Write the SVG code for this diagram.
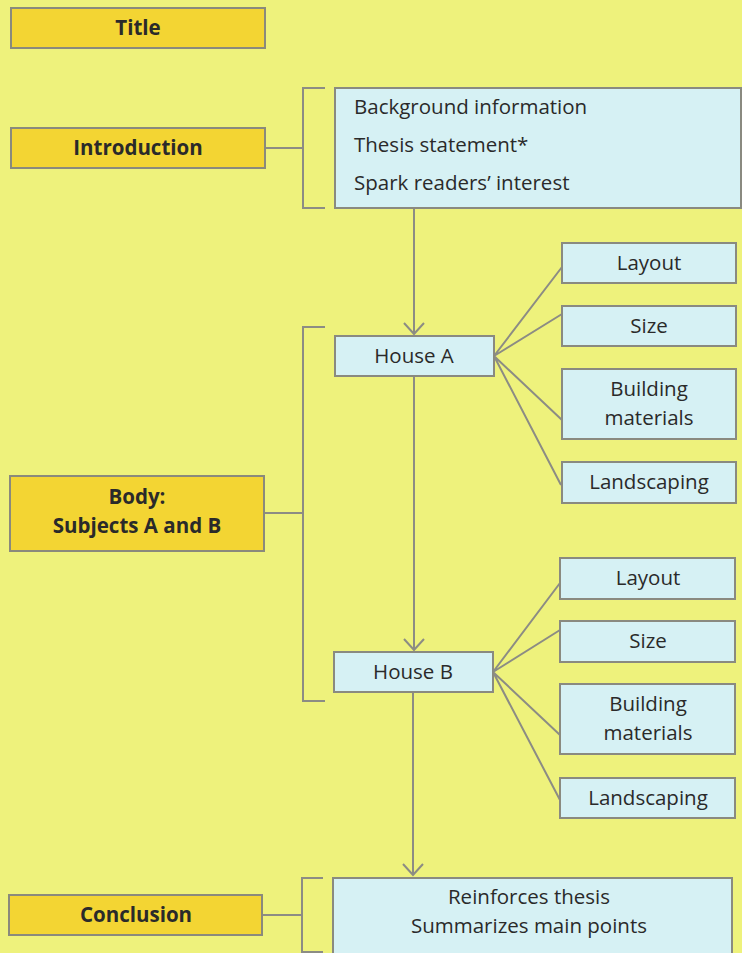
<svg xmlns="http://www.w3.org/2000/svg" width="742" height="953" viewBox="0 0 742 953">
<style>
.bg{fill:#eef27c}
.gold{fill:#f3d533;stroke:#8a8a7c;stroke-width:2}
.blue{fill:#d6f1f4;stroke:#8a8a80;stroke-width:2}
.ln{fill:none;stroke:#8c8c84;stroke-width:2}
.lb{font-family:"Open Sans","Noto Sans",sans-serif;font-weight:bold;font-size:20.5px;fill:#2a2a2a;text-anchor:middle}
.t{font-family:"Open Sans","Noto Sans",sans-serif;font-size:20.5px;fill:#2a2a2a}
.tc{font-family:"Open Sans","Noto Sans",sans-serif;font-size:20.5px;fill:#2a2a2a;text-anchor:middle}
</style>
<defs>
<marker id="arr" viewBox="0 0 14 22" refX="12" refY="11" markerWidth="14" markerHeight="22" markerUnits="userSpaceOnUse" orient="auto">
<path d="M1,1 L12,11 L1,21" fill="none" stroke="#8c8c84" stroke-width="2"/>
</marker>
</defs>
<rect class="bg" x="0" y="0" width="742" height="953"/>

<g id="connectors">
<path class="ln" d="M265,148 H303 M325,88 H303 V208 H325"/>
<path class="ln" d="M264,513 H303 M325,327 H303 V701 H325"/>
<path class="ln" d="M262,915 H302 M323,878 H302 V952 H323"/>
<line class="ln" x1="414" y1="208" x2="414" y2="334" marker-end="url(#arr)"/>
<line class="ln" x1="414" y1="376" x2="414" y2="650" marker-end="url(#arr)"/>
<line class="ln" x1="413" y1="692" x2="413" y2="875" marker-end="url(#arr)"/>
<path class="ln" d="M494,356 L562,267 M494,356 L562,314 M494,356 L562,420 M494,356 L561,485"/>
<path class="ln" d="M493,672 L560,583 M493,672 L560,630 M493,672 L560,735 M493,672 L560,800"/>
</g>

<g id="title"><rect class="gold" x="11" y="8" width="254" height="40"/><text class="lb" x="138" y="35">Title</text></g>
<g id="introduction"><rect class="gold" x="11" y="128" width="254" height="40"/><text class="lb" x="138" y="155">Introduction</text></g>
<g id="body"><rect class="gold" x="10" y="476" width="254" height="75"/><text class="lb" x="137" y="504">Body:</text><text class="lb" x="137" y="533">Subjects A and B</text></g>
<g id="conclusion"><rect class="gold" x="9" y="895" width="253" height="40"/><text class="lb" x="136" y="922">Conclusion</text></g>

<g id="intro-content"><rect class="blue" x="335" y="88" width="406" height="120"/>
<text class="t" x="354" y="114">Background information</text>
<text class="t" x="354" y="152">Thesis statement*</text>
<text class="t" x="354" y="190">Spark readers’ interest</text></g>

<g id="house-a"><rect class="blue" x="335" y="336" width="159" height="40"/><text class="tc" x="414" y="363">House A</text></g>
<g id="a-layout"><rect class="blue" x="562" y="243" width="174" height="40"/><text class="tc" x="649" y="270">Layout</text></g>
<g id="a-size"><rect class="blue" x="562" y="306" width="174" height="40"/><text class="tc" x="649" y="333">Size</text></g>
<g id="a-building"><rect class="blue" x="562" y="369" width="174" height="70"/><text class="tc" x="649" y="396">Building</text><text class="tc" x="649" y="425">materials</text></g>
<g id="a-landscaping"><rect class="blue" x="562" y="462" width="174" height="41"/><text class="tc" x="649" y="489">Landscaping</text></g>

<g id="house-b"><rect class="blue" x="334" y="652" width="159" height="40"/><text class="tc" x="413" y="679">House B</text></g>
<g id="b-layout"><rect class="blue" x="560" y="558" width="175" height="41"/><text class="tc" x="648" y="585">Layout</text></g>
<g id="b-size"><rect class="blue" x="560" y="621" width="175" height="41"/><text class="tc" x="648" y="648">Size</text></g>
<g id="b-building"><rect class="blue" x="560" y="684" width="175" height="70"/><text class="tc" x="648" y="711">Building</text><text class="tc" x="648" y="740">materials</text></g>
<g id="b-landscaping"><rect class="blue" x="560" y="778" width="175" height="40"/><text class="tc" x="648" y="805">Landscaping</text></g>

<g id="conclusion-content"><rect class="blue" x="333" y="878" width="399" height="80"/>
<text class="tc" x="529" y="904">Reinforces thesis</text>
<text class="tc" x="529" y="933">Summarizes main points</text></g>
</svg>
